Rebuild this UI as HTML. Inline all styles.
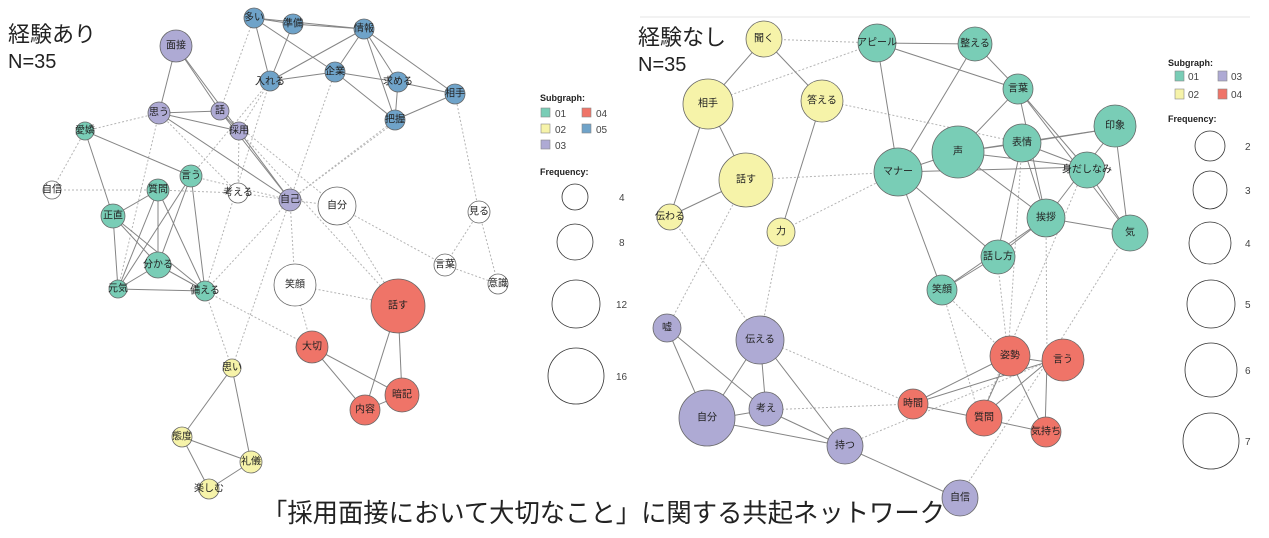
<!DOCTYPE html>
<html><head><meta charset="utf-8"><style>
html,body{margin:0;padding:0;background:#fff;width:1269px;height:538px;overflow:hidden}
svg{display:block}
text{font-family:"Liberation Sans","Noto Sans CJK JP",sans-serif;fill:#222}
.s line{stroke:#858585;stroke-width:1}
.d line{stroke:#b4b4b4;stroke-width:1;stroke-dasharray:2 2}
.n circle{stroke:#666;stroke-width:0.8}
.n text{font-size:10px;text-anchor:middle;dominant-baseline:central}
.t{fill:#79cdb6}.y{fill:#f6f3a9}.p{fill:#aeaad4}.r{fill:#ef7468}.b{fill:#6fa3c9}.w{fill:#fff}
.lg{font-size:9px;font-weight:bold}
.ll{font-size:10px;fill:#444}
</style></head><body>
<svg width="1269" height="538" viewBox="0 0 1269 538">
<line x1="640" y1="17" x2="1250" y2="17" stroke="#e6e6e6"/>
<text x="8" y="42" font-size="22">経験あり</text>
<text x="8" y="68" font-size="20">N=35</text>
<text x="638" y="45" font-size="22">経験なし</text>
<text x="638" y="71" font-size="20">N=35</text>

<g class="d">
<line x1="159" y1="113" x2="85" y2="131"/><line x1="52" y1="190" x2="85" y2="131"/>
<line x1="52" y1="190" x2="158" y2="190"/><line x1="158" y1="190" x2="238" y2="193"/>
<line x1="238" y1="193" x2="290" y2="200"/><line x1="290" y1="200" x2="337" y2="206"/>
<line x1="337" y1="206" x2="445" y2="265"/><line x1="445" y1="265" x2="498" y2="284"/>
<line x1="479" y1="212" x2="445" y2="265"/><line x1="479" y1="212" x2="455" y2="94"/>
<line x1="479" y1="212" x2="498" y2="284"/><line x1="290" y1="200" x2="295" y2="285"/>
<line x1="295" y1="285" x2="398" y2="305"/><line x1="337" y1="206" x2="398" y2="305"/>
<line x1="295" y1="285" x2="312" y2="347"/><line x1="205" y1="291" x2="312" y2="347"/>
<line x1="205" y1="291" x2="232" y2="368"/><line x1="232" y1="368" x2="290" y2="200"/>
<line x1="290" y1="200" x2="335" y2="72"/><line x1="290" y1="200" x2="395" y2="120"/>
<line x1="220" y1="111" x2="254" y2="18"/><line x1="239" y1="131" x2="270" y2="81"/>
<line x1="238" y1="193" x2="239" y2="131"/><line x1="191" y1="176" x2="270" y2="81"/>
<line x1="205" y1="291" x2="290" y2="200"/><line x1="159" y1="113" x2="118" y2="289"/>
<line x1="191" y1="176" x2="290" y2="200"/><line x1="220" y1="111" x2="337" y2="206"/>
<line x1="239" y1="131" x2="398" y2="305"/><line x1="290" y1="200" x2="398" y2="120"/>
<line x1="159" y1="113" x2="238" y2="193"/><line x1="270" y1="81" x2="205" y2="291"/>
</g>
<g class="s">
<line x1="254" y1="18" x2="293" y2="24"/><line x1="254" y1="18" x2="364" y2="29"/><line x1="293" y1="24" x2="364" y2="29"/>
<line x1="254" y1="18" x2="270" y2="81"/><line x1="254" y1="18" x2="335" y2="72"/><line x1="293" y1="24" x2="270" y2="81"/>
<line x1="364" y1="29" x2="270" y2="81"/><line x1="364" y1="29" x2="335" y2="72"/><line x1="364" y1="29" x2="398" y2="82"/>
<line x1="364" y1="29" x2="395" y2="120"/><line x1="364" y1="29" x2="455" y2="94"/><line x1="270" y1="81" x2="335" y2="72"/>
<line x1="335" y1="72" x2="398" y2="82"/><line x1="335" y1="72" x2="395" y2="120"/><line x1="398" y1="82" x2="455" y2="94"/>
<line x1="398" y1="82" x2="395" y2="120"/><line x1="395" y1="120" x2="455" y2="94"/>
<line x1="176" y1="46" x2="159" y2="113"/><line x1="176" y1="46" x2="220" y2="111"/><line x1="176" y1="46" x2="239" y2="131"/>
<line x1="159" y1="113" x2="220" y2="111"/><line x1="159" y1="113" x2="239" y2="131"/><line x1="159" y1="113" x2="290" y2="200"/>
<line x1="220" y1="111" x2="239" y2="131"/><line x1="239" y1="131" x2="290" y2="200"/><line x1="220" y1="111" x2="290" y2="200"/>
<line x1="85" y1="131" x2="113" y2="216"/><line x1="85" y1="131" x2="191" y2="176"/>
<line x1="158" y1="190" x2="113" y2="216"/><line x1="158" y1="190" x2="118" y2="289"/><line x1="158" y1="190" x2="158" y2="265"/>
<line x1="158" y1="190" x2="205" y2="291"/><line x1="191" y1="176" x2="118" y2="289"/><line x1="191" y1="176" x2="158" y2="265"/>
<line x1="191" y1="176" x2="205" y2="291"/><line x1="113" y1="216" x2="118" y2="289"/><line x1="113" y1="216" x2="158" y2="265"/>
<line x1="113" y1="216" x2="205" y2="291"/><line x1="158" y1="265" x2="118" y2="289"/><line x1="158" y1="265" x2="205" y2="291"/>
<line x1="118" y1="289" x2="205" y2="291"/>
<line x1="398" y1="305" x2="365" y2="410"/><line x1="398" y1="305" x2="402" y2="395"/>
<line x1="312" y1="347" x2="365" y2="410"/><line x1="312" y1="347" x2="402" y2="395"/><line x1="365" y1="410" x2="402" y2="395"/>
<line x1="232" y1="368" x2="182" y2="437"/><line x1="232" y1="368" x2="251" y2="462"/><line x1="182" y1="437" x2="251" y2="462"/>
<line x1="182" y1="437" x2="209" y2="489"/><line x1="251" y1="462" x2="209" y2="489"/>
</g>
<g class="n">
<circle cx="254" cy="18" r="10" class="b"/><text x="254" y="18">多い</text>
<circle cx="293" cy="24" r="10" class="b"/><text x="293" y="24">準備</text>
<circle cx="364" cy="29" r="10" class="b"/><text x="364" y="29">情報</text>
<circle cx="270" cy="81" r="10" class="b"/><text x="270" y="82">入れる</text>
<circle cx="335" cy="72" r="10" class="b"/><text x="335" y="72">企業</text>
<circle cx="398" cy="82" r="10" class="b"/><text x="398" y="82">求める</text>
<circle cx="455" cy="94" r="10" class="b"/><text x="455" y="94">相手</text>
<circle cx="395" cy="120" r="10" class="b"/><text x="395" y="120">把握</text>
<circle cx="176" cy="46" r="16" class="p"/><text x="176" y="46">面接</text>
<circle cx="159" cy="113" r="11" class="p"/><text x="159" y="113">思う</text>
<circle cx="220" cy="111" r="9" class="p"/><text x="220" y="111">話</text>
<circle cx="239" cy="131" r="9" class="p"/><text x="239" y="131">採用</text>
<circle cx="290" cy="200" r="11" class="p"/><text x="290" y="200">自己</text>
<circle cx="85" cy="131" r="9" class="t"/><text x="85" y="131">愛嬌</text>
<circle cx="191" cy="176" r="11" class="t"/><text x="191" y="176">言う</text>
<circle cx="158" cy="190" r="11" class="t"/><text x="158" y="190">質問</text>
<circle cx="113" cy="216" r="12" class="t"/><text x="113" y="216">正直</text>
<circle cx="158" cy="265" r="13" class="t"/><text x="158" y="265">分かる</text>
<circle cx="118" cy="289" r="9" class="t"/><text x="118" y="289">元気</text>
<circle cx="205" cy="291" r="10" class="t"/><text x="205" y="291">備える</text>
<circle cx="52" cy="190" r="9" class="w"/><text x="52" y="190">自信</text>
<circle cx="238" cy="193" r="10" class="w"/><text x="238" y="193">考える</text>
<circle cx="337" cy="206" r="19" class="w"/><text x="337" y="206">自分</text>
<circle cx="479" cy="212" r="11" class="w"/><text x="479" y="212">見る</text>
<circle cx="445" cy="265" r="11" class="w"/><text x="445" y="265">言葉</text>
<circle cx="498" cy="284" r="10" class="w"/><text x="498" y="284">意識</text>
<circle cx="295" cy="285" r="21" class="w"/><text x="295" y="285">笑顔</text>
<circle cx="398" cy="306" r="27" class="r"/><text x="398" y="306">話す</text>
<circle cx="312" cy="347" r="16" class="r"/><text x="312" y="347">大切</text>
<circle cx="402" cy="395" r="17" class="r"/><text x="402" y="395">暗記</text>
<circle cx="365" cy="410" r="15" class="r"/><text x="365" y="410">内容</text>
<circle cx="232" cy="368" r="9" class="y"/><text x="232" y="368">思い</text>
<circle cx="182" cy="437" r="10" class="y"/><text x="182" y="437">態度</text>
<circle cx="251" cy="462" r="11" class="y"/><text x="251" y="462">礼儀</text>
<circle cx="209" cy="489" r="10" class="y"/><text x="209" y="489">楽しむ</text>
</g>

<text x="540" y="101" class="lg">Subgraph:</text>
<rect x="541" y="108" width="9" height="9" class="t" stroke="#888" stroke-width=".6"/><text x="555" y="117" class="ll">01</text>
<rect x="582" y="108" width="9" height="9" class="r" stroke="#888" stroke-width=".6"/><text x="596" y="117" class="ll">04</text>
<rect x="541" y="124" width="9" height="9" class="y" stroke="#888" stroke-width=".6"/><text x="555" y="133" class="ll">02</text>
<rect x="582" y="124" width="9" height="9" class="b" stroke="#888" stroke-width=".6"/><text x="596" y="133" class="ll">05</text>
<rect x="541" y="140" width="9" height="9" class="p" stroke="#888" stroke-width=".6"/><text x="555" y="149" class="ll">03</text>
<text x="540" y="175" class="lg">Frequency:</text>
<g fill="none" stroke="#333" stroke-width=".8">
<circle cx="575" cy="197" r="13"/><circle cx="575" cy="242" r="18"/><circle cx="576" cy="304" r="24"/><circle cx="576" cy="376" r="28"/>
</g>
<text x="619" y="201" class="ll">4</text><text x="619" y="246" class="ll">8</text><text x="616" y="308" class="ll">12</text><text x="616" y="380" class="ll">16</text>

<g class="d">
<line x1="764" y1="39" x2="877" y2="43"/><line x1="708" y1="103" x2="877" y2="43"/>
<line x1="822" y1="100" x2="1022" y2="143"/><line x1="746" y1="180" x2="898" y2="172"/>
<line x1="781" y1="231" x2="898" y2="172"/><line x1="670" y1="216" x2="760" y2="338"/>
<line x1="746" y1="180" x2="667" y2="328"/><line x1="781" y1="231" x2="760" y2="338"/>
<line x1="760" y1="338" x2="912" y2="404"/><line x1="766" y1="410" x2="912" y2="404"/>
<line x1="843" y1="446" x2="1047" y2="362"/><line x1="942" y1="290" x2="1008" y2="356"/>
<line x1="942" y1="290" x2="980" y2="418"/><line x1="997" y1="256" x2="1008" y2="356"/>
<line x1="1046" y1="218" x2="1047" y2="362"/><line x1="1085" y1="167" x2="980" y2="418"/>
<line x1="1128" y1="232" x2="1047" y2="362"/><line x1="958" y1="498" x2="1047" y2="362"/>
<line x1="1022" y1="143" x2="1008" y2="356"/>
</g>
<g class="s">
<line x1="764" y1="39" x2="708" y2="103"/><line x1="764" y1="39" x2="822" y2="100"/>
<line x1="708" y1="103" x2="746" y2="180"/><line x1="708" y1="103" x2="670" y2="216"/>
<line x1="746" y1="180" x2="670" y2="216"/><line x1="822" y1="100" x2="781" y2="231"/>
<line x1="877" y1="43" x2="975" y2="44"/><line x1="877" y1="43" x2="898" y2="172"/><line x1="877" y1="43" x2="1018" y2="89"/>
<line x1="975" y1="44" x2="1018" y2="89"/><line x1="975" y1="44" x2="898" y2="172"/><line x1="1018" y1="89" x2="958" y2="152"/>
<line x1="1018" y1="89" x2="1085" y2="167"/><line x1="1018" y1="89" x2="1046" y2="218"/><line x1="1018" y1="89" x2="1128" y2="232"/>
<line x1="958" y1="152" x2="898" y2="172"/><line x1="958" y1="152" x2="1022" y2="143"/><line x1="958" y1="152" x2="1115" y2="128"/>
<line x1="958" y1="152" x2="1085" y2="167"/><line x1="958" y1="152" x2="1046" y2="218"/><line x1="1022" y1="143" x2="1085" y2="167"/>
<line x1="1022" y1="143" x2="1115" y2="128"/><line x1="1022" y1="143" x2="1046" y2="218"/><line x1="1022" y1="143" x2="997" y2="256"/>
<line x1="1115" y1="128" x2="1085" y2="167"/><line x1="1115" y1="128" x2="1128" y2="232"/><line x1="1085" y1="167" x2="1046" y2="218"/>
<line x1="1085" y1="167" x2="1128" y2="232"/><line x1="1046" y1="218" x2="997" y2="256"/><line x1="1046" y1="218" x2="1128" y2="232"/>
<line x1="997" y1="256" x2="942" y2="290"/><line x1="898" y1="172" x2="942" y2="290"/><line x1="898" y1="172" x2="997" y2="256"/>
<line x1="1046" y1="218" x2="942" y2="290"/><line x1="898" y1="172" x2="1085" y2="167"/>
<line x1="667" y1="328" x2="707" y2="420"/><line x1="667" y1="328" x2="766" y2="410"/><line x1="760" y1="338" x2="707" y2="420"/>
<line x1="760" y1="338" x2="766" y2="410"/><line x1="760" y1="338" x2="843" y2="446"/><line x1="707" y1="420" x2="766" y2="410"/>
<line x1="707" y1="420" x2="843" y2="446"/><line x1="766" y1="410" x2="843" y2="446"/><line x1="843" y1="446" x2="958" y2="498"/>
<line x1="912" y1="404" x2="1008" y2="356"/><line x1="912" y1="404" x2="1047" y2="362"/><line x1="912" y1="404" x2="980" y2="418"/>
<line x1="1008" y1="356" x2="1047" y2="362"/><line x1="1008" y1="356" x2="980" y2="418"/><line x1="1008" y1="356" x2="1045" y2="432"/>
<line x1="1047" y1="362" x2="980" y2="418"/><line x1="1047" y1="362" x2="1045" y2="432"/><line x1="980" y1="418" x2="1045" y2="432"/>
</g>
<g class="n">
<circle cx="764" cy="39" r="18" class="y"/><text x="764" y="39">聞く</text>
<circle cx="708" cy="104" r="25" class="y"/><text x="708" y="104">相手</text>
<circle cx="822" cy="101" r="21" class="y"/><text x="822" y="101">答える</text>
<circle cx="746" cy="180" r="27" class="y"/><text x="746" y="180">話す</text>
<circle cx="670" cy="217" r="13" class="y"/><text x="670" y="217">伝わる</text>
<circle cx="781" cy="232" r="14" class="y"/><text x="781" y="232">力</text>
<circle cx="877" cy="43" r="19" class="t"/><text x="877" y="43">アピール</text>
<circle cx="975" cy="44" r="17" class="t"/><text x="975" y="44">整える</text>
<circle cx="1018" cy="89" r="15" class="t"/><text x="1018" y="89">言葉</text>
<circle cx="898" cy="172" r="24" class="t"/><text x="898" y="172">マナー</text>
<circle cx="958" cy="152" r="26" class="t"/><text x="958" y="152">声</text>
<circle cx="1022" cy="143" r="19" class="t"/><text x="1022" y="143">表情</text>
<circle cx="1115" cy="126" r="21" class="t"/><text x="1115" y="126">印象</text>
<circle cx="1087" cy="170" r="18" class="t"/><text x="1087" y="170">身だしなみ</text>
<circle cx="1046" cy="218" r="19" class="t"/><text x="1046" y="218">挨拶</text>
<circle cx="1130" cy="233" r="18" class="t"/><text x="1130" y="233">気</text>
<circle cx="998" cy="257" r="17" class="t"/><text x="998" y="257">話し方</text>
<circle cx="942" cy="290" r="15" class="t"/><text x="942" y="290">笑顔</text>
<circle cx="667" cy="328" r="14" class="p"/><text x="667" y="328">嘘</text>
<circle cx="760" cy="340" r="24" class="p"/><text x="760" y="340">伝える</text>
<circle cx="707" cy="418" r="28" class="p"/><text x="707" y="418">自分</text>
<circle cx="766" cy="409" r="17" class="p"/><text x="766" y="409">考え</text>
<circle cx="845" cy="446" r="18" class="p"/><text x="845" y="446">持つ</text>
<circle cx="960" cy="498" r="18" class="p"/><text x="960" y="498">自信</text>
<circle cx="913" cy="404" r="15" class="r"/><text x="913" y="404">時間</text>
<circle cx="1010" cy="356" r="20" class="r"/><text x="1010" y="356">姿勢</text>
<circle cx="1063" cy="360" r="21" class="r"/><text x="1063" y="360">言う</text>
<circle cx="984" cy="418" r="18" class="r"/><text x="984" y="418">質問</text>
<circle cx="1046" cy="432" r="15" class="r"/><text x="1046" y="432">気持ち</text>
</g>

<text x="1168" y="66" class="lg">Subgraph:</text>
<rect x="1175" y="71" width="9" height="10" class="t" stroke="#888" stroke-width=".6"/><text x="1188" y="80" class="ll">01</text>
<rect x="1218" y="71" width="9" height="10" class="p" stroke="#888" stroke-width=".6"/><text x="1231" y="80" class="ll">03</text>
<rect x="1175" y="89" width="9" height="10" class="y" stroke="#888" stroke-width=".6"/><text x="1188" y="98" class="ll">02</text>
<rect x="1218" y="89" width="9" height="10" class="r" stroke="#888" stroke-width=".6"/><text x="1231" y="98" class="ll">04</text>
<text x="1168" y="122" class="lg">Frequency:</text>
<g fill="none" stroke="#333" stroke-width=".8">
<ellipse cx="1210" cy="146" rx="15" ry="15"/><ellipse cx="1210" cy="190" rx="17" ry="19"/><ellipse cx="1210" cy="243" rx="21" ry="21"/>
<ellipse cx="1211" cy="304" rx="24" ry="24"/><ellipse cx="1211" cy="370" rx="26" ry="27"/><ellipse cx="1211" cy="441" rx="28" ry="28"/>
</g>
<text x="1245" y="150" class="ll">2</text><text x="1245" y="194" class="ll">3</text><text x="1245" y="247" class="ll">4</text>
<text x="1245" y="308" class="ll">5</text><text x="1245" y="374" class="ll">6</text><text x="1245" y="445" class="ll">7</text>

<text x="262" y="522" font-size="26" fill="#111" textLength="683" lengthAdjust="spacingAndGlyphs">「採用面接において大切なこと」に関する共起ネットワーク</text>
</svg>
</body></html>
